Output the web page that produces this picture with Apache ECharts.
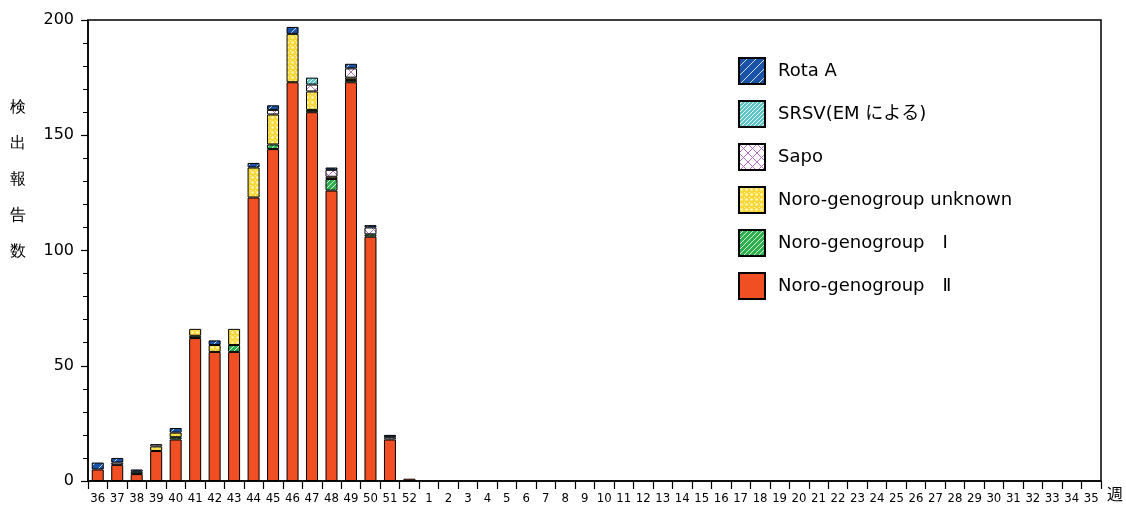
<!DOCTYPE html>
<html>
<head>
<meta charset="utf-8">
<script src="https://cdn.jsdelivr.net/npm/echarts@6/dist/echarts.min.js"></script>
<style>html,body{margin:0;padding:0;background:#fff}#c{width:1126px;height:512px}</style>
</head>
<body>
<div id="c"></div>
<script>
// ---- data ----
const weeks = ['36','37','38','39','40','41','42','43','44','45','46','47','48','49','50','51','52',
  '1','2','3','4','5','6','7','8','9','10','11','12','13','14','15','16','17','18','19','20',
  '21','22','23','24','25','26','27','28','29','30','31','32','33','34','35'];
const pad = new Array(35).fill(0);
const noroII   = [5, 7, 3, 13, 18, 62, 56, 56, 123, 144, 173, 160, 126, 173, 106, 18, 1].concat(pad);
const noroI    = [0, 0, 1, 0, 1, 1, 0, 3, 0, 2, 0, 1, 5, 1, 1, 0, 0].concat(pad);
const noroUnk  = [0, 0, 0, 2, 2, 3, 3, 7, 13, 13, 21, 8, 1, 1, 0, 0, 0].concat(pad);
const sapo     = [0, 1, 0, 1, 0, 0, 0, 0, 0, 2, 0, 3, 3, 4, 3, 1, 0].concat(pad);
const srsv     = [0, 0, 0, 0, 0, 0, 0, 0, 0, 0, 0, 3, 0, 0, 0, 0, 0].concat(pad);
const rotaA    = [3, 2, 1, 0, 2, 0, 2, 0, 2, 2, 3, 0, 1, 2, 1, 1, 0].concat(pad);
const yTicks = [0, 50, 100, 150, 200];
const yTitle = '検\n出\n報\n告\n数';
const names = ['Rota A', 'SRSV(EM による)', 'Sapo', 'Noro-genogroup unknown', 'Noro-genogroup　Ⅰ', 'Noro-genogroup　Ⅱ'];

// ---- patterns ----
function mk(size, bg, draw) {
  const c = document.createElement('canvas');
  c.width = c.height = size;
  const g = c.getContext('2d');
  g.fillStyle = bg; g.fillRect(0, 0, size, size);
  draw(g, size);
  return { image: c, repeat: 'repeat' };
}
function slash(g, s) {
  g.beginPath();
  g.moveTo(0, s); g.lineTo(s, 0);
  g.moveTo(-s / 2, s / 2); g.lineTo(s / 2, -s / 2);
  g.moveTo(s / 2, s * 1.5); g.lineTo(s * 1.5, s / 2);
  g.stroke();
}
function back(g, s) {
  g.beginPath();
  g.moveTo(0, 0); g.lineTo(s, s);
  g.moveTo(-s / 2, s / 2); g.lineTo(s / 2, s * 1.5);
  g.moveTo(s / 2, -s / 2); g.lineTo(s * 1.5, s / 2);
  g.stroke();
}
const pRota = mk(9, '#1a52a8', (g, s) => { g.strokeStyle = 'rgba(255,255,255,0.8)'; g.lineWidth = 1; slash(g, s); });
const pSrsv = mk(4, '#5cc3c6', (g, s) => { g.strokeStyle = 'rgba(255,255,255,0.9)'; g.lineWidth = 1; slash(g, s); });
const pSapo = mk(9, '#ffffff', (g, s) => { g.strokeStyle = '#b070c0'; g.lineWidth = 1; slash(g, s); back(g, s); });
const pUnk  = mk(5, '#f8d838', (g, s) => { g.fillStyle = '#fff8c0'; g.beginPath(); g.arc(s/2, s/2, 1.3, 0, Math.PI*2); g.fill();
                                           g.fillRect(0,0,1,1); });
const pI    = mk(5, '#2fae4e', (g, s) => { g.strokeStyle = 'rgba(255,255,255,0.8)'; g.lineWidth = 1; slash(g, s); });
const cII   = '#f04e23';

const chart = echarts.init(document.getElementById('c'), null, { renderer: 'canvas' });
const bw = 12;
function ser(name, data, color) {
  return {
    name, type: 'bar', stack: 'all', barWidth: bw,
    data: data.map(v => v === 0 ? null : v),
    itemStyle: { color: color, borderColor: '#000', borderWidth: 1 },
    emphasis: { disabled: true }
  };
}
const font = "'DejaVu Sans', 'Noto Sans CJK JP', sans-serif";
chart.setOption({
  animation: false,
  textStyle: { fontFamily: font, color: '#000' },
  grid: { left: 88, right: 23, top: 20, bottom: 31, show: true, borderColor: '#000', borderWidth: 1.5, containLabel: false },
  graphic: [{
    type: 'text', left: 10, top: 90,
    style: { text: yTitle, fontSize: 16, lineHeight: 36, fill: '#000', font: "16px 'Noto Sans CJK JP', sans-serif" }
  }],
  legend: {
    orient: 'vertical', left: 738, top: 57, padding: 0,
    itemWidth: 26, itemHeight: 26, itemGap: 15,
    data: names.map(n => ({ name: n, icon: 'rect' })),
    textStyle: { fontSize: 18, color: '#000', fontFamily: font, padding: [0, 0, 0, 8], lineHeight: 26 },
    selectedMode: false
  },
  xAxis: {
    type: 'category', data: weeks,
    name: '週', nameLocation: 'end', nameGap: 6,
    nameTextStyle: { fontSize: 16, color: '#000', verticalAlign: 'top', padding: [7, 0, 0, 0], fontFamily: font },
    axisLine: { lineStyle: { color: '#000', width: 1.5 } },
    axisTick: { show: true, interval: 0, length: 8, lineStyle: { color: '#000', width: 1.2 } },
    axisLabel: { interval: 0, fontSize: 13, color: '#000', margin: 11, fontFamily: "'DejaVu Sans Condensed', 'DejaVu Sans', sans-serif" },
    splitLine: { show: false }
  },
  yAxis: {
    type: 'value', min: 0, max: 200, interval: 50,
    axisLine: { show: true, lineStyle: { color: '#000', width: 1.5 } },
    axisTick: { show: true, length: 7, lineStyle: { color: '#000', width: 1.2 } },
    minorTick: { show: true, splitNumber: 5, length: 5, lineStyle: { color: '#000', width: 1 } },
    axisLabel: { fontSize: 16, color: '#000', margin: 14, formatter: v => yTicks.includes(v) ? String(v) : '' },
    splitLine: { show: false }
  },
  series: [
    ser(names[5], noroII, cII),
    ser(names[4], noroI, pI),
    ser(names[3], noroUnk, pUnk),
    ser(names[2], sapo, pSapo),
    ser(names[1], srsv, pSrsv),
    ser(names[0], rotaA, pRota)
  ]
});
</script>
</body>
</html>
